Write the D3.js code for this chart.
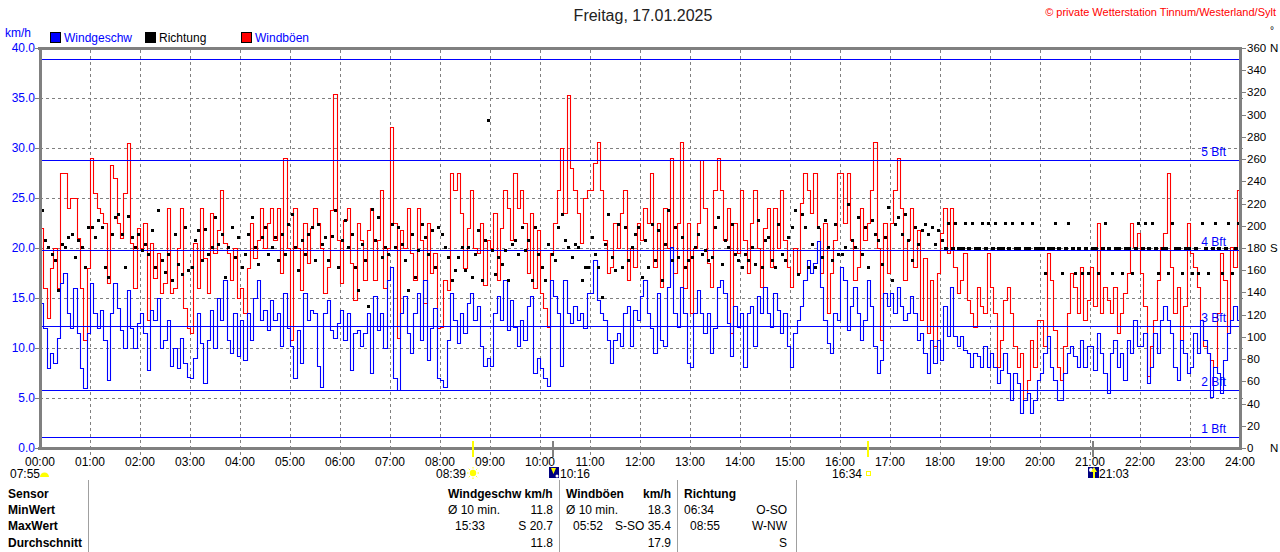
<!DOCTYPE html>
<html><head><meta charset="utf-8">
<script src="https://cdn.jsdelivr.net/npm/d3@7/dist/d3.min.js"></script>
<style>
body{margin:0;background:#fff}
svg{display:block;font-family:"Liberation Sans",Arial,Helvetica,sans-serif}
</style>
</head><body>
<svg id="c" width="1280" height="552"></svg>
<script>
// ---------- DATA (4-minute samples, 00:00 .. 23:56) ----------
const windKmh = [
 14.5,12,8,9.5,8.5,11,16.5,17.5,13.5,12,16,11.5,8,6,11.5,
 16.5,13.5,12,13.8,10.8,6.8,13.5,16.5,14,11.8,10,15.8,12,10,12.5,
 13.5,11.5,7.8,13.8,12.8,15,10,10.8,12.8,8.2,10,8,11,8.5,7.1,
 7,9,13.5,10.5,6.5,10.8,13.8,10,15,12.8,16.8,10.8,9.5,13.5,9.2,
 12.8,8.8,13.5,10.8,15,16.8,12.8,13.8,11.8,14.8,12.8,13.5,10.2,15.5,12,
 10.2,7,11.8,8.5,15.5,12.8,13.8,13.5,8.2,6.1,13.5,14.8,11.8,11,12.5,
 13.8,10.8,13.5,7.8,11.5,11.8,10.2,11.5,13.5,7.5,15.2,11.8,13.5,10,16.8,
 18.1,7,5.8,13.5,15.2,11.5,9.5,13.5,15.5,10.8,16.8,8.8,12,14,7,
 6.8,6.1,10.8,15.5,12.8,10.5,13.5,11.5,14.5,15.5,12.8,14.2,10.2,8.2,9,
 8.2,13.5,15.2,12.8,16.8,11.8,14.8,12.1,10.2,12.8,10.8,14.2,15.2,7.5,9,
 8,7,6.2,16.8,15.2,13.5,8.2,16.8,13.5,12.5,14.2,12.8,13.5,12,15.5,
 15.5,18.8,14.8,13.5,12.8,10.8,8.5,10.8,11.5,10.2,13.5,14.2,10.2,13.8,12.8,
 15.2,16.8,13.5,12,9.5,15.5,10.8,10.2,16.1,20.1,13.5,12.1,16.1,13.5,8.5,
 8.1,13.5,15.8,13.5,11.5,13.5,9.5,12,16.1,16.8,15.5,12.5,9.2,14.2,12.1,
 13.5,8.1,13.5,14.2,10.2,15.2,13.5,16.1,13.5,12.1,15.5,13.8,11.5,13.5,10.2,
 8.1,11.5,12.8,14.2,16.8,18.8,17.5,18.5,20.7,16.1,12.8,10.5,9.5,13.5,12.8,
 18.1,16.8,11.8,14.2,16.1,13.5,10.8,12.8,16.8,14.2,10.2,7.5,8.8,15.5,14.2,
 15.5,13.5,16.1,14.2,12.8,13.5,15.2,13.5,10.8,11.5,9.5,7.5,10.8,8.5,10.8,
 8.8,14.2,11.2,16.1,11.2,10.2,11.2,9.8,9.5,8.1,9.5,9.2,8.1,10.2,8.1,
 9.5,8.1,6.5,7.8,9.5,7.5,4.8,7.5,6.5,3.5,4.8,5.5,3.5,4.8,6.8,
 7.5,9.5,11.2,8.1,6.8,4.8,4.8,7.5,9.5,10.2,9.2,8.1,10.8,8.1,10.2,
 10.2,7.8,11.5,9.5,7.5,5.5,9.5,10.8,8.1,9.5,6.8,10.8,9.5,12.8,10.2,
 10.2,11.5,6.5,8.1,11.5,9.5,12.8,14.2,12.8,11.5,8.1,6.8,10.8,9.5,7.5,
 8.1,11.5,9.5,12.8,10.8,9.5,5.1,8.1,7.5,5.5,8.8,11.5,12.8,14.2,12.8
];
const gustKmh = [
 22,16,13,18,20,16,27.5,27.5,24,25,25,21,16,10.8,18,
 29,25.5,24,23.5,22.5,16.5,28.3,27,22.5,21,25.5,30.5,20.5,16,22,
 20,22.5,12.8,20.5,17,19.5,15.5,16.5,24,15.5,16,20,24,14,12,
 11.5,20.5,16,24,19,15.5,23.5,19.5,21.8,25.8,20.5,19.5,16.8,20,15,
 16,13.5,18,22.5,19,20.8,24,20,22.5,24,20.8,24,17.5,29,20,
 10.8,24,20,15.8,22.5,18.5,22,24,22.5,20,15.5,18.1,23.8,35.4,20.8,
 16.5,22.8,24,18.5,14.8,22.5,20.8,16.8,21.8,24,16.8,20.8,25.8,16,20,
 32.1,22.5,11,21.8,20,24,19.5,16.8,24,20.8,14.5,22.5,17.5,19.5,12,
 12.1,16.8,15.8,27.5,25.8,27.5,23.5,18,22,25.8,20,19.5,22.5,16.3,20.8,
 20,23.5,16.8,22,25.8,24,20.8,27.5,24,25.8,22.5,17.5,23.5,16,21.8,
 15.5,14,12.1,19.5,22.5,25.8,30,23.5,35.3,28,25.8,23.5,20.5,25,25.8,
 25.8,28.5,30.6,25.8,20.8,17.5,18.1,22.5,20,23.5,25.8,16.8,20,18.1,22.5,
 20.8,24,22.5,27.5,18.1,22.5,16.1,24,20,29,17.5,22.5,30.6,16,22.5,
 13.5,20,22.5,28.8,24,18.5,16.1,25.8,29,25.8,20.8,24,11.5,22.5,19.5,
 25.8,20.8,17.5,22.5,25.8,20,16.1,22,24,18.1,24,20,25.8,20.8,18.1,
 16.1,20,17.5,24.5,27.5,25.8,23.5,27.5,22,17.5,22.5,13.5,17.5,20.8,27.5,
 27.5,22.5,27.5,20.8,16.8,18.1,24,20.8,22.5,25.8,30.6,20,10.8,22.5,17.5,
 22.5,25.8,29,24,16.8,20.8,24,18.1,21.8,12.8,19,11.5,16.8,10.2,17.5,
 21.5,24,19.5,24,18.1,15.5,16.8,19.5,14.8,13.5,12.1,16.1,14.2,13.5,19.5,
 16.1,13.5,8.1,10.8,14.8,16.1,13.5,10.2,8.1,9.5,4.8,6.8,10.8,8.1,12.8,
 12.8,10.2,19.5,16.8,11.8,8.1,6.8,10.2,13.5,17.5,16.1,13.5,18.1,12.8,14.8,
 18.1,14.2,22.5,13.5,16.1,14.8,13.5,16.1,11.5,13.5,15.5,17.5,22.5,20.1,21.5,
 17.5,14.2,7.2,10.2,12.8,16.8,20.1,21.5,27.5,18.1,13.5,16.1,10.8,14.2,22.5,
 19.5,18.1,16.1,12.8,10.2,9.5,8.8,8.1,13.5,19.5,16.8,11.5,20.1,18.1,25.8
];
const dirDeg = [
 214,187,181,175,169,142,184,181,190,193,172,187,181,163,199,
 199,190,205,199,163,154,193,208,211,193,163,209,190,181,193,
 178,184,175,196,163,214,169,158,175,151,193,166,157,199,160,
 163,187,196,169,197,175,181,208,184,193,154,181,199,172,190,
 163,175,193,208,181,166,190,199,175,181,190,169,193,175,202,
 211,181,160,187,175,193,199,169,202,184,190,169,191,214,163,
 187,205,181,193,163,142,184,169,128,215,187,208,172,181,175,
 202,181,199,184,169,142,193,154,178,202,190,175,196,163,199,
 193,181,172,151,160,172,181,160,181,154,175,196,151,187,295,
 178,157,172,166,178,151,184,187,175,199,178,187,151,199,175,
 163,151,184,175,169,199,211,187,181,172,184,181,151,163,163,
 190,175,163,136,184,211,172,160,202,163,199,169,181,193,199,
 154,187,163,202,169,196,151,184,214,169,199,172,190,163,169,
 172,181,193,175,178,169,172,199,208,166,187,181,202,175,169,
 163,175,169,181,166,205,163,187,190,169,163,202,175,169,190,
 199,214,157,211,199,163,184,163,199,172,205,181,169,202,175,
 175,181,220,187,181,208,175,199,163,205,193,187,166,190,217,
 151,202,208,193,211,187,169,199,184,196,202,193,199,184,196,
 187,180,202.5,180,202.5,180,180,202.5,180,202.5,180,180,202.5,180,202.5,
 180,202.5,180,180,202.5,180,202.5,180,180,202.5,180,180,202.5,180,180,
 180,157.5,180,180,202.5,180,157.5,180,202.5,180,157.5,180,157.5,180,157.5,
 180,180,157.5,180,202.5,180,157.5,180,180,157.5,180,180,157.5,180,202.5,
 180,202.5,180,202.5,180,157.5,180,180,157.5,202.5,180,180,157.5,180,180,
 157.5,180,157.5,202.5,180,157.5,180,202.5,180,157.5,180,202.5,157.5,180,202.5
];
const hourLabels = ["00:00","01:00","02:00","03:00","04:00","05:00","06:00","07:00","08:00","09:00","10:00","11:00","12:00","13:00","14:00","15:00","16:00","17:00","18:00","19:00","20:00","21:00","22:00","23:00","24:00"];
const kmhTicks = [0,5,10,15,20,25,30,35,40];
const degTicks = [0,20,40,60,80,100,120,140,160,180,200,220,240,260,280,300,320,340,360];
const degLetters = {0:"N",180:"S",360:"N"};
const bftLimits = [1.08,5.76,12.24,19.8,28.8,38.88];
const bftLabels = ["1 Bft","2 Bft","3 Bft","4 Bft","5 Bft",""];
const legendItems = [["Windgeschw","#0000ff","#0000ff"],["Richtung","#000000","#000000"],["Windböen","#ff0000","#0000ff"]];
const sunMoonTimes = [["08:39","sun"],["10:16","moonset"],["16:34","sunset"],["21:03","moonrise"]];
const rowLabels = ["Sensor","MinWert","MaxWert","Durchschnitt"];
const windCol = [["Windgeschw km/h",""],["Ø 10 min.","11.8"],["15:33","S 20.7"],["","11.8"]];
const gustCol = [["Windböen","km/h"],["Ø 10 min.","18.3"],["05:52","S-SO 35.4"],["","17.9"]];
const dirCol = [["Richtung",""],["06:34","O-SO"],["08:55","W-NW"],["","S"]];

// ---------- CHART ----------
const svg = d3.select("#c");
const X0=40, X1=1240, Y0=448, Y1=48;
const x = d3.scaleLinear().domain([0,1440]).range([X0,X1]);
const y = d3.scaleLinear().domain([0,40]).range([Y0,Y1]);
const yd = d3.scaleLinear().domain([0,360]).range([Y0,Y1]);
const GRID="#808080";

// grid
const g = svg.append("g").attr("shape-rendering","crispEdges");
g.selectAll("line.v").data(d3.range(1,24)).join("line")
 .attr("x1",h=>Math.round(x(h*60))+0.5).attr("x2",h=>Math.round(x(h*60))+0.5)
 .attr("y1",Y1+2).attr("y2",Y0+8)
 .attr("stroke",GRID).attr("stroke-dasharray","3,3");
g.selectAll("line.h").data(kmhTicks.filter(v=>v>0&&v<40)).join("line")
 .attr("x1",X0).attr("x2",X1+4)
 .attr("y1",v=>Math.round(y(v))+0.5).attr("y2",v=>Math.round(y(v))+0.5)
 .attr("stroke",GRID).attr("stroke-dasharray","3,3");

function stepPts(arr){
  const st = 1440/arr.length;
  const p = arr.map((v,i)=>[i*st,v]);
  p.push([1440,arr[arr.length-1]]);
  return p;
}
const line = d3.line().x(d=>Math.round(x(d[0]))+0.5).y(d=>Math.round(y(d[1]))+0.5).curve(d3.curveStepAfter);

svg.append("path").datum(stepPts(gustKmh)).attr("d",line)
 .attr("fill","none").attr("stroke","#ff0000").attr("stroke-width",1.1);
svg.append("path").datum(stepPts(windKmh)).attr("d",line)
 .attr("fill","none").attr("stroke","#0000ff").attr("stroke-width",1.1);

// Beaufort lines
const bg = svg.append("g").attr("shape-rendering","crispEdges");
bg.selectAll("line").data(bftLimits).join("line")
 .attr("x1",X0).attr("x2",X1)
 .attr("y1",v=>Math.round(y(v))+0.5).attr("y2",v=>Math.round(y(v))+0.5)
 .attr("stroke","#0000ff").attr("stroke-width",1);
svg.selectAll("text.bft").data(bftLimits.map((v,i)=>[v,bftLabels[i]]).filter(d=>d[1])).join("text")
 .attr("class","bft").attr("x",1226).attr("y",d=>y(d[0])-4)
 .attr("text-anchor","end").attr("font-size",12).attr("fill","#0000ff").text(d=>d[1]);

// direction dots
const dst = 1440/dirDeg.length;
svg.append("g").attr("shape-rendering","crispEdges").selectAll("rect").data(dirDeg).join("rect")
 .attr("x",(d,i)=>Math.round(x(i*dst+dst/2))-1).attr("y",d=>Math.round(yd(d))-1)
 .attr("width",d=>d===180?4:2.5).attr("height",d=>d===180?3:2.5).attr("fill","#000");

// frame
const fr = svg.append("g").attr("stroke",GRID).attr("shape-rendering","crispEdges");
fr.append("line").attr("x1",X0-2).attr("x2",X1+2).attr("y1",Y1).attr("y2",Y1).attr("stroke-width",3);
fr.append("line").attr("x1",X0-2).attr("x2",X1+2).attr("y1",Y0).attr("y2",Y0).attr("stroke-width",3);
fr.append("line").attr("x1",X0).attr("x2",X0).attr("y1",Y1).attr("y2",Y0+2).attr("stroke-width",3);
fr.append("line").attr("x1",X1).attr("x2",X1).attr("y1",Y1).attr("y2",Y0+2).attr("stroke-width",3);

// left axis
const la = svg.append("g");
la.selectAll("line").data(kmhTicks).join("line")
 .attr("x1",X0-5).attr("x2",X0).attr("y1",v=>Math.round(y(v))+0.5).attr("y2",v=>Math.round(y(v))+0.5)
 .attr("stroke",GRID).attr("shape-rendering","crispEdges");
la.selectAll("text").data(kmhTicks).join("text")
 .attr("x",X0-5).attr("y",v=>y(v)).attr("dy","0.35em").attr("text-anchor","end")
 .attr("font-size",12).attr("fill","#0000ff").text(v=>d3.format(".1f")(v));
svg.append("text").attr("x",5).attr("y",37).attr("font-size",12).attr("fill","#0000ff").text("km/h");

// right axis
const ra = svg.append("g");
ra.selectAll("line").data(degTicks).join("line")
 .attr("x1",X1).attr("x2",X1+6).attr("y1",v=>Math.round(yd(v))+0.5).attr("y2",v=>Math.round(yd(v))+0.5)
 .attr("stroke",GRID).attr("shape-rendering","crispEdges");
ra.selectAll("text.n").data(degTicks).join("text").attr("class","n")
 .attr("x",X1+7).attr("y",v=>yd(v)).attr("dy","0.35em")
 .attr("font-size",11.5).attr("fill","#000").text(v=>v);
ra.selectAll("text.l").data(degTicks.filter(v=>degLetters[v])).join("text").attr("class","l")
 .attr("x",X1+30).attr("y",v=>yd(v)).attr("dy","0.35em")
 .attr("font-size",11.5).attr("fill","#000").text(v=>degLetters[v]);
svg.append("text").attr("x",1270).attr("y",34).attr("font-size",10).attr("fill","#000").text("°");

// bottom axis labels
svg.selectAll("text.hx").data(hourLabels).join("text").attr("class","hx")
 .attr("x",(d,i)=>x(i*60)).attr("y",466).attr("text-anchor","middle")
 .attr("font-size",12).attr("fill","#000").text(d=>d);

// title & legend
svg.append("text").attr("x",643).attr("y",21).attr("text-anchor","middle").attr("font-size",16).attr("fill","#222").text("Freitag, 17.01.2025");
svg.append("text").attr("x",1276).attr("y",16).attr("text-anchor","end").attr("font-size",11).attr("fill","#ff0000").text("© private Wetterstation Tinnum/Westerland/Sylt");
const legX=[50,145,241];
legendItems.forEach((d,i)=>{
  svg.append("rect").attr("x",legX[i]+0.5).attr("y",32.5).attr("width",10).attr("height",10)
   .attr("fill",d[1]).attr("stroke","#000").attr("stroke-width",1);
  svg.append("text").attr("x",legX[i]+14).attr("y",42).attr("font-size",12)
   .attr("fill",d[2]).text(d[0]);
});

// sun / moon markers
function tmin(s){const p=s.split(":");return +p[0]*60+ +p[1];}
sunMoonTimes.forEach(d=>{
  const xx = Math.round(x(tmin(d[0])));
  const col = (d[1]==="sun"||d[1]==="sunset")?"#ffff00":"#808080";
  svg.append("line").attr("x1",xx).attr("x2",xx).attr("y1",441).attr("y2",457)
   .attr("stroke",col).attr("stroke-width",2).attr("shape-rendering","crispEdges");
});
function lab(t,xx,anchor){svg.append("text").attr("x",xx).attr("y",478).attr("font-size",12).attr("text-anchor",anchor).attr("fill","#000").text(t);}
lab("07:55",10,"start");
svg.append("path").attr("d","M40,477 A4.5,4.5 0 0 1 49,477 Z").attr("fill","#ffff00");
lab(sunMoonTimes[0][0],466,"end");
const sx=Math.round(x(tmin("08:39"))), sy=473;
svg.append("circle").attr("cx",sx).attr("cy",sy).attr("r",3.2).attr("fill","#ffff00");
d3.range(8).forEach(k=>{const a=k*Math.PI/4;svg.append("line")
  .attr("x1",sx+Math.cos(a)*4.5).attr("y1",sy+Math.sin(a)*4.5).attr("x2",sx+Math.cos(a)*6).attr("y2",sy+Math.sin(a)*6)
  .attr("stroke","#ffff00").attr("stroke-width",1);});
svg.append("rect").attr("x",549).attr("y",467).attr("width",10).attr("height",11).attr("fill","#000080");
svg.append("path").attr("d","M551,468 L556,468 L553.5,474 Z").attr("fill","#ffff00");
svg.append("circle").attr("cx",557).attr("cy",476).attr("r",1.5).attr("fill","#fff");
lab(sunMoonTimes[1][0],560,"start");
lab(sunMoonTimes[2][0],862,"end");
svg.append("rect").attr("x",866.5).attr("y",471.5).attr("width",4).attr("height",4).attr("fill","none").attr("stroke","#ffff00");
svg.append("rect").attr("x",1088).attr("y",467).attr("width",11).attr("height",11).attr("fill","#000080");
svg.append("circle").attr("cx",1091).attr("cy",470).attr("r",2).attr("fill","#fff");
svg.append("path").attr("d","M1094,467 L1097,472 L1095,472 L1095,478 L1093,478 L1093,472 L1091,472 Z").attr("fill","#ffff00");
lab(sunMoonTimes[3][0],1099,"start");

// table
const rowY=[498,514,530,547];
const tb = svg.append("g").attr("font-size",12).attr("fill","#000");
[88,559,677,796].forEach(xx=>svg.append("line").attr("x1",xx+0.5).attr("x2",xx+0.5).attr("y1",480).attr("y2",552)
  .attr("stroke","#a0a0a0").attr("shape-rendering","crispEdges"));
rowLabels.forEach((t,i)=>tb.append("text").attr("x",8).attr("y",rowY[i]).attr("font-weight","bold").text(t));
function col(data,lx,rx,indent){
  data.forEach((r,i)=>{
    if(r[0]) tb.append("text").attr("x",lx+(i===2?indent:0)).attr("y",rowY[i]).attr("font-weight",i===0?"bold":"normal").text(r[0]);
    if(r[1]) tb.append("text").attr("x",rx).attr("y",rowY[i]).attr("text-anchor","end").attr("font-weight",i===0?"bold":"normal").text(r[1]);
  });
}
col(windCol,448,553,7);
col(gustCol,566,671,7);
col(dirCol,684,787,6);
</script>
</body></html>
